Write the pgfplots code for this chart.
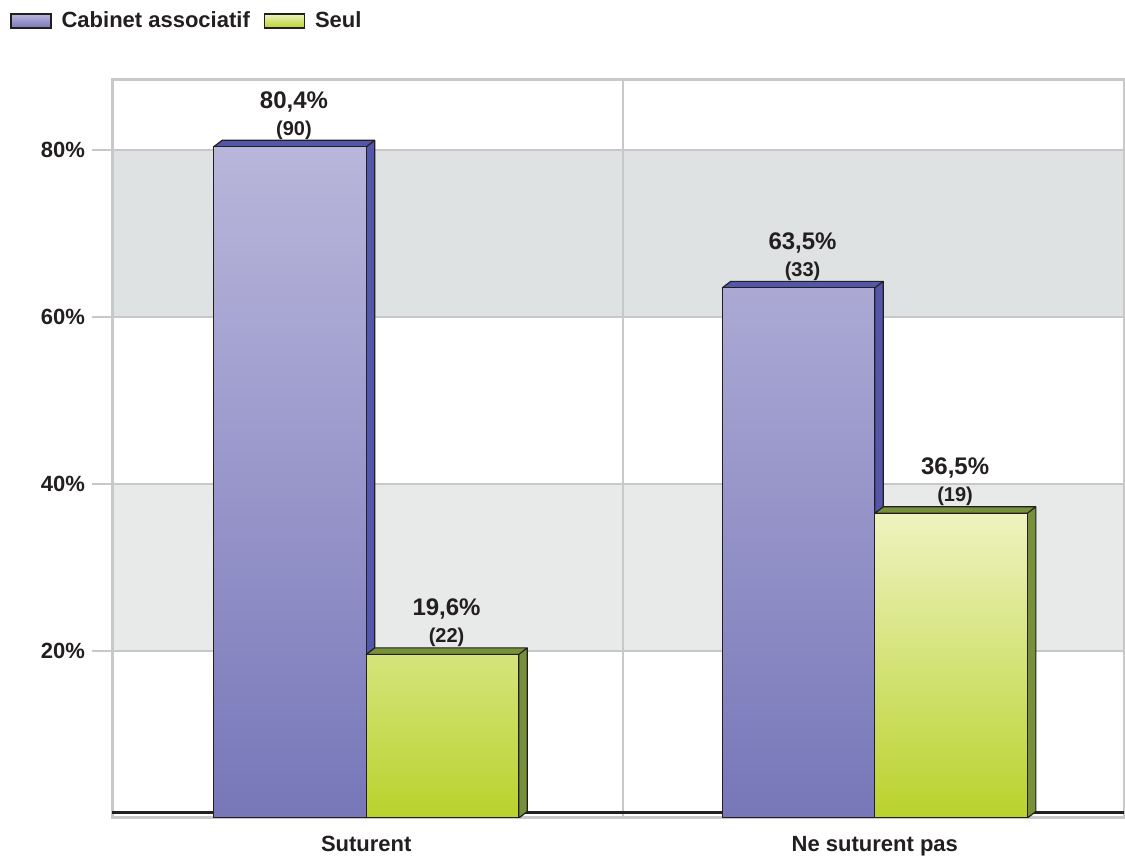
\documentclass[border=0pt]{standalone}
\usepackage{pgfplots}
\pgfplotsset{compat=1.18}
\usepackage{pgfplotstable}
\usepackage{fontspec}
\setmainfont{Liberation Sans}
\definecolor{txt}{HTML}{231F20}
\definecolor{gridc}{HTML}{C8C8C8}
\definecolor{bandA}{HTML}{E8E9E9}
\definecolor{bandB}{HTML}{DFE2E3}
\definecolor{bluetop}{HTML}{B9B6DB}
\definecolor{bluebot}{HTML}{7777B9}
\definecolor{blueside}{HTML}{5257A9}
\definecolor{greentop}{HTML}{EEF3C0}
\definecolor{greenbot}{HTML}{B9D22C}
\definecolor{greenside}{HTML}{76913A}
\definecolor{legblue}{HTML}{7A7ABB}
\definecolor{leggreen}{HTML}{BCD434}

% x = bar centre (categories at 0 and 1), y = percentage, n = count
\pgfplotstableread{
x y n
-0.15 80.4 (90)
0.85 63.5 (33)
}\assoc
\pgfplotstableread{
x y n
0.15 19.6 (22)
1.15 36.5 (19)
}\seul

\pgfplotsset{
  lbl/.style={
    nodes near coords={{\fontsize{12}{13}\selectfont\pgfmathprintnumber[fixed,fixed zerofill,precision=1,use comma]{\yval}\%}\\[1.5pt]{\fontsize{10}{11}\selectfont\pgfplotspointmeta}},
    point meta=explicit symbolic,
    visualization depends on={rawy \as \yval},
    every node near coord/.append style={anchor=south, inner sep=0pt, yshift=3.5pt, xshift=2pt, align=center, text=txt, font=\bfseries},
  },
  face/.style={forget plot, fill=#1, draw=txt, line width=0.6pt, line join=round},
}

\begin{document}
\begin{tikzpicture}
\begin{axis}[
  name=ax, set layers,
  scale only axis, width=506pt, height=369pt,
  xmin=-0.5, xmax=1.49, ymin=0, ymax=88.4,
  axis line style={draw=gridc, line width=1.5pt},
  xtick={0,1}, xticklabels={Suturent, Ne suturent pas},
  x tick style={draw=none},
  x tick label style={yshift=4.5pt},
  extra x ticks={0.505}, extra x tick labels={},
  extra x tick style={xmajorgrids=true, major tick length=0pt},
  ytick={20,40,60,80}, yticklabel={\pgfmathprintnumber{\tick}\%},
  y tick style={draw=gridc, line width=0.75pt},
  tick align=outside, major tick length=10pt, tick pos=left,
  ymajorgrids, grid style={draw=gridc, line width=0.75pt},
  /pgf/number format/assume math mode=true,
  ticklabel style={font=\bfseries\fontsize{11}{13}\selectfont, text=txt},
  legend columns=2,
  legend style={at={(-0.1008,1.08)}, anchor=west, draw=none, fill=none, inner sep=0pt,
    font=\bfseries\fontsize{11}{13}\selectfont, text=txt,
    /tikz/every odd column/.append style={column sep=3pt},
    /tikz/every even column/.append style={column sep=5pt}},
]
% background bands
\addplot[forget plot, on layer=axis background, fill=bandA, draw=none] coordinates {(-0.5,20)(1.49,20)(1.49,40)(-0.5,40)};
\addplot[forget plot, on layer=axis background, fill=bandB, draw=none] coordinates {(-0.5,60)(1.49,60)(1.49,80)(-0.5,80)};
% floor
\addplot[forget plot, draw=txt, line width=1.5pt] coordinates {(-0.5,0.6)(1.49,0.6)};

% 3D faces of the "Cabinet associatif" bars
\addplot[face=blueside] coordinates {(0,80.4)(-0.3,80.4)(-0.2833,81.18)(0.0167,81.18)(0,80.4)(0,0)(0.0167,0.78)(0.0167,81.18)};
\addplot[face=blueside] coordinates {(1,63.5)(0.7,63.5)(0.7167,64.28)(1.0167,64.28)(1,63.5)(1,0)(1.0167,0.78)(1.0167,64.28)};
\addplot[ybar, bar width=0.3, bar shift=0, draw=txt, line width=0.6pt,
  top color=bluetop, bottom color=bluebot, lbl,
  legend image code/.code={\draw[fill=legblue, draw=txt, line width=0.6pt] (0pt,-3.5pt) rectangle (20pt,3.5pt);}]
  table[x=x, y=y, meta=n]{\assoc};
\addlegendentry{Cabinet associatif}

% 3D faces of the "Seul" bars
\addplot[face=greenside] coordinates {(0.3,19.6)(0,19.6)(0.0167,20.38)(0.3167,20.38)(0.3,19.6)(0.3,0)(0.3167,0.78)(0.3167,20.38)};
\addplot[face=greenside] coordinates {(1.3,36.5)(1,36.5)(1.0167,37.28)(1.3167,37.28)(1.3,36.5)(1.3,0)(1.3167,0.78)(1.3167,37.28)};
\addplot[ybar, bar width=0.3, bar shift=0, draw=txt, line width=0.6pt,
  top color=greentop, bottom color=greenbot, lbl,
  legend image code/.code={\draw[fill=leggreen, draw=txt, line width=0.6pt] (0pt,-3.5pt) rectangle (20pt,3.5pt);}]
  table[x=x, y=y, meta=n]{\seul};
\addlegendentry{Seul}
\end{axis}
\pgfresetboundingbox
\path ([shift={(-56pt,-19.5pt)}]ax.south west) rectangle ([shift={(0.5pt,40pt)}]ax.north east);
\end{tikzpicture}
\end{document}
